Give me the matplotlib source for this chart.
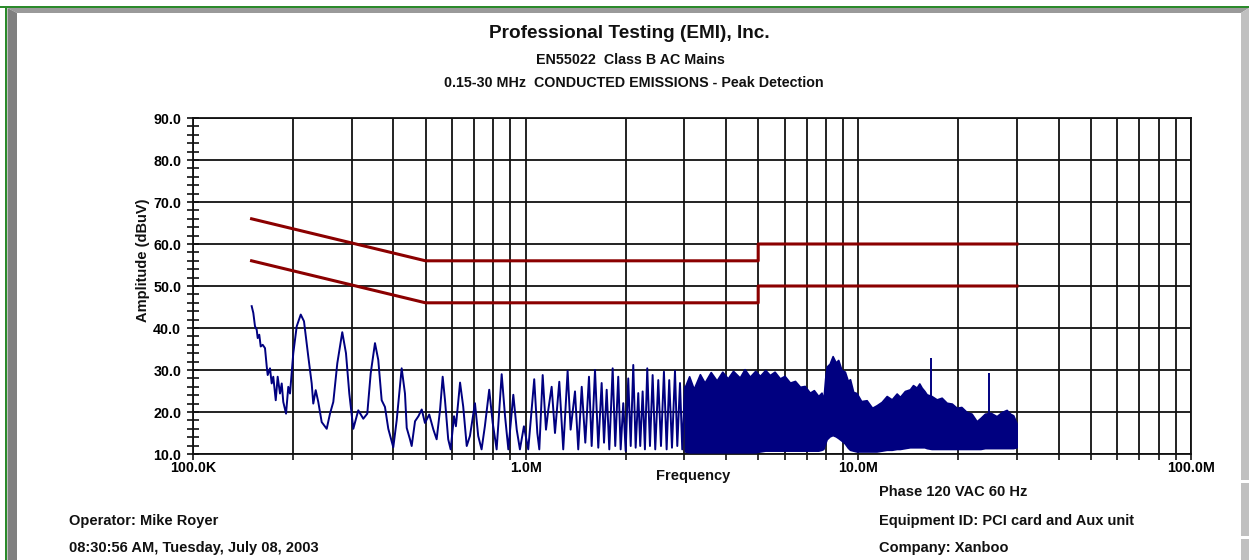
import matplotlib
matplotlib.use("Agg")
import matplotlib.pyplot as plt
from matplotlib.patches import Polygon, Rectangle
from matplotlib.ticker import FixedLocator, NullFormatter

plt.rcParams['font.family'] = ['Liberation Sans', 'DejaVu Sans']

# ---------------- data ----------------
# Peak-detected trace (MHz, dBuV) for the resolvable low-frequency part
trace_freq_mhz = [0.1501, 0.1518, 0.1536, 0.1554, 0.1565, 0.1582, 0.1598, 0.1620, 0.1646, 0.1666,
                  0.1677, 0.1704, 0.1724, 0.1743, 0.1773, 0.1797, 0.1826, 0.1848, 0.1868, 0.1904,
                  0.1934, 0.1957, 0.2002, 0.2050, 0.2108, 0.2156, 0.2221, 0.2274, 0.2299, 0.2338,
                  0.2380, 0.2437, 0.2523, 0.2581, 0.2641, 0.2715, 0.2810, 0.2883, 0.2950, 0.3033,
                  0.3139, 0.3250, 0.3341, 0.3421, 0.3524, 0.3605, 0.3691, 0.3776, 0.3864, 0.4000,
                  0.4095, 0.4239, 0.4337, 0.4390, 0.4490, 0.4543, 0.465, 0.476, 0.487, 0.498,
                  0.513, 0.528, 0.540, 0.553, 0.563, 0.572, 0.585, 0.595, 0.609, 0.617,
                  0.635, 0.649, 0.665, 0.680, 0.704, 0.720, 0.737, 0.754, 0.777, 0.796,
                  0.818, 0.847, 0.867, 0.887, 0.918, 0.940, 0.961, 0.988, 1.018, 1.061,
                  1.084, 1.099, 1.125, 1.151, 1.170, 1.197, 1.225, 1.262, 1.297, 1.337,
                  1.365, 1.407, 1.439, 1.474, 1.511, 1.550, 1.579, 1.616, 1.653, 1.692,
                  1.720, 1.752, 1.784, 1.826, 1.859, 1.898, 1.930, 1.965, 1.998, 2.034,
                  2.069, 2.106, 2.141, 2.180, 2.210, 2.247, 2.283, 2.320, 2.364, 2.408,
                  2.452, 2.504, 2.551, 2.604, 2.653, 2.701, 2.753, 2.811, 2.856, 2.910,
                  2.956, 3.011]
trace_dbuv = [45.2, 43.6, 40.4, 39.6, 37.6, 38.4, 35.6, 36.0, 35.2, 30.8,
              28.8, 30.4, 26.8, 28.4, 22.8, 28.4, 24.4, 26.8, 22.4, 19.6,
              26.0, 24.4, 34.0, 40.4, 43.2, 41.6, 33.2, 26.8, 22.0, 25.2,
              22.4, 17.6, 16.0, 19.6, 22.4, 31.6, 39.0, 34.0, 24.4, 16.0,
              20.4, 18.4, 19.6, 29.2, 36.4, 32.4, 22.8, 21.2, 16.0, 11.6,
              18.0, 30.4, 24.4, 16.2, 13.5, 11.9, 17.8, 19.0, 20.6, 17.4,
              19.4, 15.8, 13.5, 20.6, 28.4, 22.9, 13.5, 11.1, 19.0, 16.6,
              27.0, 21.3, 11.9, 14.3, 22.1, 14.3, 11.1, 16.6, 25.3, 17.4,
              11.1, 29.0, 19.0, 11.1, 24.1, 15.8, 11.1, 16.6, 11.1, 27.8,
              15.0, 11.1, 28.8, 15.8, 20.6, 26.0, 15.0, 27.2, 11.1, 29.8,
              15.8, 24.9, 11.1, 26.0, 12.7, 28.4, 11.9, 30.0, 11.5, 26.9,
              12.7, 25.3, 11.1, 30.4, 11.9, 28.4, 11.1, 22.1, 10.7, 28.0,
              11.9, 31.2, 11.5, 24.5, 11.9, 24.9, 11.1, 30.4, 11.9, 28.8,
              11.1, 27.6, 11.9, 29.6, 11.1, 27.6, 11.5, 29.8, 11.9, 26.9,
              11.1, 26.0]

# Dense part of the trace (3-30 MHz): upper and lower envelope of the band
band_freq_mhz = [3.011, 3.10, 3.20, 3.34, 3.45, 3.60, 3.75, 3.90, 4.05, 4.20,
                 4.40, 4.55, 4.72, 4.90, 5.06, 5.25, 5.42, 5.60, 5.81, 6.00,
                 6.23, 6.45, 6.68, 6.90, 7.15, 7.35, 7.58, 7.75, 7.85, 7.95,
                 8.03, 8.20, 8.37, 8.55, 8.70, 8.90, 9.11, 9.30, 9.44, 9.65,
                 9.88, 10.2, 10.59, 11.0, 11.35, 11.75, 12.17, 12.6, 13.04, 13.34,
                 13.8, 14.29, 14.6, 14.97, 15.25, 15.50, 15.8, 16.05, 16.6, 17.20,
                 17.8, 18.43, 19.1, 19.75, 20.4, 21.16, 21.9, 22.68, 23.3, 24.02,
                 25.0, 26.04, 27.0, 27.91, 28.6, 29.22, 29.91]
band_upper_dbuv = [26.0, 28.5, 25.5, 29.0, 27.0, 29.5, 27.5, 29.6, 28.0, 29.8,
                   28.2, 30.2, 28.4, 29.8, 28.6, 30.0, 28.8, 29.6, 28.0, 28.6,
                   27.0, 27.4, 26.0, 26.2, 24.6, 25.2, 23.8, 24.6, 22.8, 28.0,
                   30.8, 31.5, 33.3, 31.8, 32.4, 30.0, 29.6, 27.4, 27.8, 24.8,
                   24.5, 22.6, 22.8, 21.0, 21.6, 22.4, 23.8, 23.0, 24.4, 23.6,
                   25.0, 25.4, 26.4, 25.8, 26.8, 25.8, 25.0, 24.2, 23.8, 23.0,
                   23.4, 22.2, 22.0, 21.0, 21.2, 20.0, 19.6, 17.8, 18.6, 19.6,
                   19.8, 19.0, 20.0, 20.5, 19.6, 19.2, 17.3]
band_lower_dbuv = [10.6, 10.4, 10.4, 10.4, 10.4, 10.4, 10.4, 10.4, 10.4, 10.4,
                   10.4, 10.4, 10.4, 10.4, 10.6, 10.8, 10.8, 10.8, 10.8, 10.8,
                   10.8, 10.8, 10.8, 10.8, 10.8, 10.8, 10.8, 11.0, 11.2, 12.5,
                   13.5, 14.2, 14.5, 14.2, 13.8, 13.2, 12.5, 11.5, 11.0, 10.8,
                   10.6, 10.6, 10.6, 10.6, 10.6, 10.8, 11.0, 11.0, 11.2, 11.2,
                   11.4, 11.6, 11.6, 11.6, 11.6, 11.6, 11.6, 11.4, 11.2, 11.2,
                   11.2, 11.2, 11.2, 11.2, 11.2, 11.2, 11.2, 11.2, 11.2, 11.4,
                   11.4, 11.4, 11.4, 11.4, 11.4, 11.4, 11.6]

# Isolated narrow spikes on top of the band
spike_freq_mhz = [16.49, 24.75]
spike_dbuv = [32.8, 29.4]

# EN55022 Class B limits
limit_freq_mhz = [0.15, 0.5, 5.0, 5.0, 30.0]
qp_limit_dbuv = [66, 56, 56, 60, 60]
avg_limit_dbuv = [56, 46, 46, 50, 50]

y_ticks = [10, 20, 30, 40, 50, 60, 70, 80, 90]
x_major_mhz = [0.1, 1.0, 10.0, 100.0]
x_major_labels = ['100.0K', '1.0M', '10.0M', '100.0M']

# ---------------- figure ----------------
W, H = 1249, 560
fig = plt.figure(figsize=(W / 100, H / 100), dpi=100)
fig.patch.set_facecolor('white')

# window frame (background layer in pixel coordinates)
bg = fig.add_axes([0, 0, 1, 1], zorder=0)
bg.set_xlim(0, W)
bg.set_ylim(H, 0)
bg.axis('off')
bg.add_patch(Polygon([(7.5, 8), (W, 8), (1241, 13), (17, 13)], closed=True,
                     facecolor='#9a9a9a', edgecolor='none'))
bg.add_patch(Polygon([(7.5, 8), (17, 13), (17, H), (7.5, H)], closed=True,
                     facecolor='#808080', edgecolor='none'))
bg.add_patch(Polygon([(1241, 13), (W, 8), (W, H), (1241, H)], closed=True,
                     facecolor='#c0c0c0', edgecolor='none'))
bg.add_patch(Rectangle((1241, 480), 8, 3, facecolor='white', edgecolor='none'))
bg.add_patch(Rectangle((1241, 536), 8, 3, facecolor='white', edgecolor='none'))
bg.add_patch(Rectangle((0, 5.5), W, 2.5, facecolor='#2b8a2b', edgecolor='none'))
bg.add_patch(Rectangle((5.0, 5.5), 2.5, H, facecolor='#2b8a2b', edgecolor='none'))

# plot axes
L, R, T, B = 193, 1191, 118, 454
ax = fig.add_axes([L / W, 1 - B / H, (R - L) / W, (B - T) / H], zorder=2)
ax.set_xscale('log')
ax.set_xlim(0.1, 100)
ax.set_ylim(10, 90)

ax.xaxis.set_major_locator(FixedLocator(x_major_mhz))
ax.set_xticklabels(x_major_labels)
minors = [m * d for d in (0.1, 1.0, 10.0) for m in range(2, 10)]
ax.xaxis.set_minor_locator(FixedLocator(minors))
ax.xaxis.set_minor_formatter(NullFormatter())
ax.set_yticks(y_ticks)
ax.set_yticklabels([f'{v:.1f}' for v in y_ticks])
ax.yaxis.set_minor_locator(FixedLocator([v for v in range(10, 91, 2) if v % 10]))

ax.grid(True, which='both', axis='x', color='#111111', linewidth=1.3)
ax.grid(True, which='major', axis='y', color='#111111', linewidth=1.3)
ax.set_axisbelow(True)
for s in ax.spines.values():
    s.set_color('#111111')
    s.set_linewidth(1.3)

ax.tick_params(axis='y', which='both', direction='inout', length=9, width=1.2,
               labelsize=10.3, pad=4, color='#111111')
ax.tick_params(axis='x', which='both', direction='out', length=4, width=1.2,
               labelsize=10.3, pad=1, color='#111111')
for lab in ax.get_xticklabels() + ax.get_yticklabels():
    lab.set_fontweight('bold')

navy = '#000080'
ax.plot(trace_freq_mhz, trace_dbuv, color=navy, linewidth=1.4, zorder=3)
ax.fill_between(band_freq_mhz, band_lower_dbuv, band_upper_dbuv, color=navy,
                linewidth=1.2, edgecolor=navy, zorder=3)
ax.vlines(spike_freq_mhz, 15, spike_dbuv, color=navy, linewidth=1.4, zorder=3)

maroon = '#8b0000'
ax.plot(limit_freq_mhz, qp_limit_dbuv, color=maroon, linewidth=2.2, zorder=4)
ax.plot(limit_freq_mhz, avg_limit_dbuv, color=maroon, linewidth=2.2, zorder=4)

# ---------------- texts ----------------
def ftext(x, y, s, size=10.5, ha='center', **kw):
    fig.text(x / W, 1 - y / H, s, ha=ha, va='center', fontsize=size,
             fontweight='bold', color='#111111', zorder=5, **kw)

ftext(629, 34, 'Professional Testing (EMI), Inc.', size=13.7)
ftext(630, 60, 'EN55022  Class B AC Mains', size=10.3)
ftext(634, 83, '0.15-30 MHz  CONDUCTED EMISSIONS - Peak Detection', size=10.3)
ftext(143, 260, 'Amplitude (dBuV)', size=10.5, rotation=90)
ftext(693, 476, 'Frequency', size=10.5)
ftext(879, 492, 'Phase 120 VAC 60 Hz', ha='left')
ftext(69, 521, 'Operator: Mike Royer', ha='left')
ftext(879, 521, 'Equipment ID: PCI card and Aux unit', ha='left')
ftext(69, 548, '08:30:56 AM, Tuesday, July 08, 2003', ha='left')
ftext(879, 548, 'Company: Xanboo', ha='left')

fig.savefig('out.png', dpi=100, facecolor='white')
